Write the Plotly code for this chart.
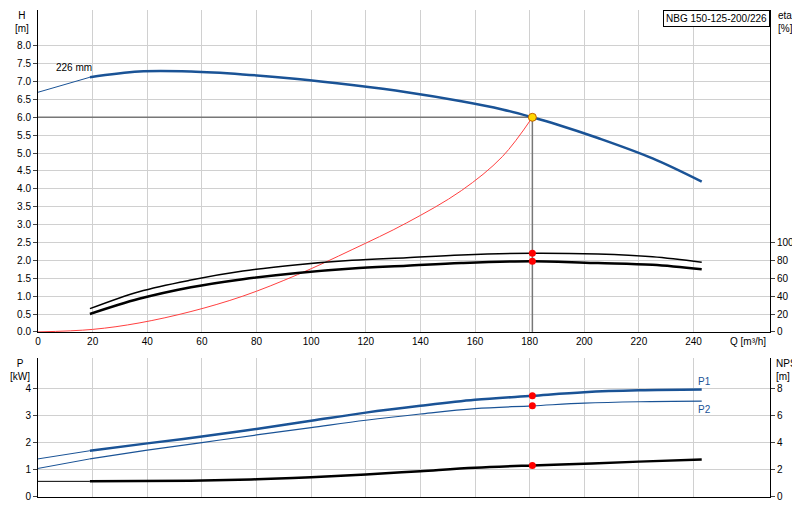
import plotly.graph_objects as go

# Head curve (m)
q_h = [19, 37, 56, 75, 95, 115, 135, 155, 170, 181, 190, 205, 225, 243]
h = [7.12, 7.28, 7.28, 7.2, 7.07, 6.9, 6.7, 6.45, 6.22, 6.0, 5.8, 5.42, 4.85, 4.2]
q_h_ext = [0, 19]
h_ext = [6.7, 7.12]
# System curve (m)
q_sys = [0, 20, 37, 56, 75, 95, 115, 135, 155, 170, 181]
h_sys = [0, 0.07, 0.25, 0.57, 1.0, 1.6, 2.3, 3.05, 3.95, 4.9, 6.0]
# Efficiency (%)
q_eta = [19, 37, 56, 75, 95, 115, 135, 155, 181, 205, 225, 243]
eta_upper = [26, 45, 58, 68, 75, 80, 83, 86, 88, 87, 84, 78]
eta_lower = [20, 37, 50, 59, 66, 71, 74, 77, 79, 77, 75, 70]
# Power (kW)
q_p = [19, 40, 60, 80, 100, 120, 140, 160, 181, 200, 220, 243]
p1 = [1.7, 1.97, 2.22, 2.5, 2.8, 3.1, 3.35, 3.57, 3.72, 3.85, 3.92, 3.95]
p2 = [1.4, 1.72, 2.0, 2.28, 2.55, 2.82, 3.05, 3.25, 3.35, 3.45, 3.5, 3.52]
p1_ext = [1.4, 1.7]
p2_ext = [1.05, 1.4]
# NPSH (m)
q_n = [19, 56, 80, 100, 120, 140, 160, 181, 200, 220, 243]
npsh = [1.15, 1.2, 1.3, 1.45, 1.65, 1.9, 2.15, 2.32, 2.45, 2.6, 2.75]
npsh_ext = [1.15, 1.15]
# Duty point
q_op = 181
h_op = 6.0
eta_op = [88, 79]
p_op = [3.72, 3.35]
npsh_op = 2.32

BLUE = "#1a5396"
fig = go.Figure()
def ln(x, y, color, w, xa="x", ya="y", shape="spline"):
    fig.add_trace(go.Scatter(x=x, y=y, mode="lines", line=dict(color=color, width=w, shape=shape),
                             xaxis=xa, yaxis=ya, showlegend=False, hoverinfo="skip"))

ln([0, q_op], [h_op, h_op], "#777", 1.5, shape="linear")
ln([q_op, q_op], [0, h_op], "#777", 1.5, shape="linear")
ln(q_h_ext, h_ext, BLUE, 1)
ln(q_h, h, BLUE, 2.5)
ln(q_sys, h_sys, "#ff4040", 1)
ln(q_eta, eta_upper, "black", 1.5, "x", "y2")
ln(q_eta, eta_lower, "black", 2.5, "x", "y2")
fig.add_trace(go.Scatter(x=[q_op, q_op], y=eta_op, mode="markers", marker=dict(color="red", size=7),
                         xaxis="x", yaxis="y2", showlegend=False))
fig.add_trace(go.Scatter(x=[q_op], y=[h_op], mode="markers",
                         marker=dict(color="#ffd700", size=8, line=dict(color="#c06000", width=1)),
                         showlegend=False))
ln([0, 19], p1_ext, BLUE, 1, "x2", "y3")
ln(q_p, p1, BLUE, 2.5, "x2", "y3")
ln([0, 19], p2_ext, BLUE, 1, "x2", "y3")
ln(q_p, p2, BLUE, 1.2, "x2", "y3")
ln([0, 19], npsh_ext, "black", 1, "x2", "y4")
ln(q_n, npsh, "black", 2.5, "x2", "y4")
fig.add_trace(go.Scatter(x=[q_op, q_op], y=p_op, mode="markers", marker=dict(color="red", size=7),
                         xaxis="x2", yaxis="y3", showlegend=False))
fig.add_trace(go.Scatter(x=[q_op], y=[npsh_op], mode="markers", marker=dict(color="red", size=7),
                         xaxis="x2", yaxis="y4", showlegend=False))

F = dict(family="Arial, Liberation Sans", size=10, color="black")
grid = "#d0d0d0"
top_dom = [0.339, 1.0]
bot_dom = [0.0, 0.285]
common = dict(automargin=False, zeroline=False, showline=True, linecolor="black")
fig.update_layout(
    width=800, height=520, margin=dict(l=30, r=38, t=2, b=31, autoexpand=False),
    plot_bgcolor="white", paper_bgcolor="white", font=F,
    xaxis=dict(range=[0, 268], tickvals=list(range(0, 241, 20)), showgrid=True, gridcolor=grid,
               anchor="y", domain=[0, 1], ticks="", **common),
    xaxis2=dict(range=[0, 268], tickvals=list(range(0, 241, 20)), showgrid=True, gridcolor=grid,
                showticklabels=False, anchor="y3", matches="x", **common),
    yaxis=dict(domain=top_dom, range=[0, 9.0], tickvals=[i * 0.5 for i in range(17)], tickformat=".1f",
               showgrid=True, gridcolor=grid, ticks="outside", ticklen=4, **common),
    yaxis2=dict(domain=top_dom, range=[0, 360], overlaying="y", side="right", anchor="x",
                tickvals=[0, 20, 40, 60, 80, 100], showgrid=False, ticks="outside", ticklen=4, **common),
    yaxis3=dict(domain=bot_dom, range=[0, 5.1], tickvals=[0, 1, 2, 3, 4], anchor="x2",
                showgrid=True, gridcolor=grid, ticks="outside", ticklen=4, **common),
    yaxis4=dict(domain=bot_dom, range=[0, 10.2], overlaying="y3", side="right", anchor="x2",
                tickvals=[0, 2, 4, 6, 8], showgrid=False, ticks="outside", ticklen=4, **common),
)
def pann(px, py, t, xa="left", color="black"):
    fig.add_annotation(x=(px - 30) / 732, y=(489 - py) / 487, xref="paper", yref="paper", text=t,
                       showarrow=False, xanchor=xa, yanchor="middle", align="center" if xa == "center" else "left",
                       font=dict(family=F["family"], size=10, color=color))

pann(14, 14, "H<br>[m]", "center")
pann(768, 14, "eta<br>[%]")
pann(12, 362, "P<br>[kW]", "center")
pann(766, 362, "NPSH<br>[m]")
pann(720, 333, "Q [m³/h]")
pann(46, 59, "226 mm")
pann(688, 373, "P1", color=BLUE)
pann(688, 401, "P2", color=BLUE)
fig.add_annotation(x=1.0, y=1.0, xref="paper", yref="paper", text="NBG 150-125-200/226",
                   showarrow=False, xanchor="right", yanchor="top", bordercolor="black",
                   borderwidth=1, bgcolor="white", font=F, borderpad=2)
fig.write_html("out.html")
